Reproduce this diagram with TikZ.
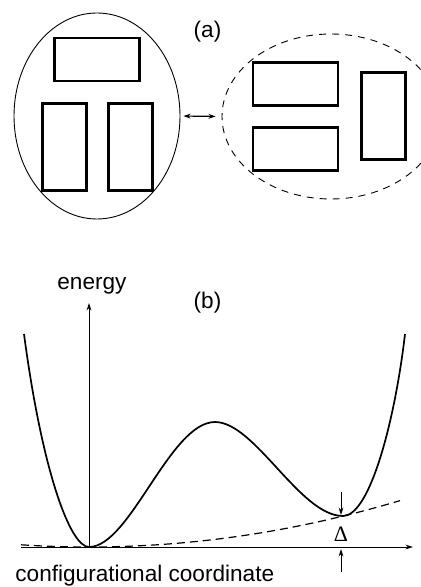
\documentclass[tikz,border=0pt]{standalone}
\usepackage{fontspec}
\setmainfont{Liberation Sans}
\newfontfamily\serifdelta{Liberation Serif}
\usetikzlibrary{arrows.meta,shapes.geometric}
\begin{document}
\begin{tikzpicture}[x=0.5pt,y=-0.5pt,
  hbox/.style={draw,line width=1.25pt,minimum width=42.5pt,minimum height=21.5pt,inner sep=0pt},
  vbox/.style={draw,line width=1.25pt,minimum width=22pt,minimum height=43.5pt,inner sep=0pt},
  blob/.style={draw,ellipse,line width=0.45pt,inner sep=0pt},
  lbl/.style={inner sep=0pt,font=\fontsize{11.3}{13}\selectfont},
  tip/.style={-{Stealth[length=3.8pt,width=2.4pt]},line width=0.45pt},
  curve/.style={line width=0.85pt},
  dashcurve/.style={line width=0.6pt,dash pattern=on 4pt off 2.5pt}]
\useasboundingbox (0,0) rectangle (421,587);
\clip (0,0) rectangle (421,587);
% (a)
\node[blob,minimum width=83pt,minimum height=103pt] (L) at (97,116) {};
\node[blob,dash pattern=on 3.5pt off 3pt,minimum width=109pt,minimum height=82.5pt] (R) at (331,116.5) {};
\node[hbox] (r1) at (97,59.5) {};
\node[vbox] (r2) at (64.5,147) {};
\node[vbox] (r3) at (130.5,147) {};
\node[hbox] (r4) at (295.5,84) {};
\node[hbox] (r5) at (295.5,149) {};
\node[vbox] (r6) at (383.5,116) {};
\draw[{Stealth[length=3.5pt,width=2.4pt]}-{Stealth[length=3.5pt,width=2.4pt]},line width=0.6pt,shorten <=1.5pt,shorten >=3pt] (L.east) -- (R.west);
\node[lbl,anchor=base] (la) at (207.5,38) {(a)};
% (b)
\coordinate (o) at (89,547);
\coordinate (xe) at (413,547);
\coordinate (xs) at (21,547);
\coordinate (ye) at (89,303);
\draw[tip] (xs) -- (xe);
\draw[tip] (o) -- (ye);
\node[lbl,anchor=base west] (en) at (57,289) {energy};
\node[lbl,anchor=base] (lb) at (207.5,308) {(b)};
\node[lbl,anchor=base west] (cc) at (15,581) {configurational coordinate};
\draw[curve] (24,334) .. controls (42,470) and (70,547) .. (o)
  .. controls (130,547) and (170,422) .. (215,422)
  .. controls (255,422) and (300,516) .. (343,516)
  .. controls (370,516) and (395,420) .. (405,334);
\draw[dashcurve] plot[domain=21:400,samples=60] (\x,{547-(0.0219*(\x-89))^2});
\coordinate (t1) at (341,492);
\coordinate (t2) at (341,515);
\coordinate (b1) at (341,572);
\coordinate (b2) at (341,549);
\draw[tip] (t1) -- (t2);
\draw[tip] (b1) -- (b2);
\node[lbl,anchor=base,font=\serifdelta\fontsize{11}{12}\selectfont] (d) at (341,541.5) {Δ};
\end{tikzpicture}
\end{document}
